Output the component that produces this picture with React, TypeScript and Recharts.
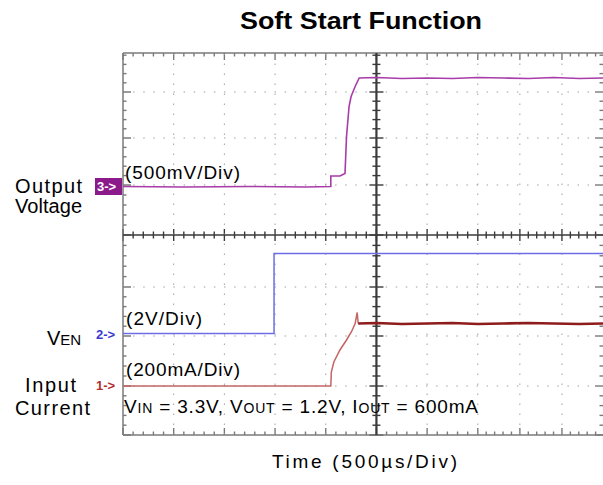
import { ComposedChart, Line, XAxis, YAxis, ReferenceLine, ReferenceArea } from "recharts";

// time in divisions (500us/div), level in divisions
const ch3Time = [0, 1.2, 2.5, 3.6, 4.1, 4.1, 4.28, 4.38, 4.41, 4.46, 4.5, 4.58, 4.66, 5.0, 5.5, 6.0, 6.5, 7.0, 7.5, 8.0, 8.5, 9.0, 9.47];
const ch3Level = [0.97, 0.96, 0.97, 0.96, 0.97, 1.18, 1.18, 1.23, 1.97, 2.57, 2.77, 2.97, 3.14, 3.15, 3.13, 3.14, 3.13, 3.15, 3.14, 3.13, 3.15, 3.13, 3.14];

const ch2Time = [0, 2.98, 2.98, 9.47];
const ch2Level = [-1.97, -1.97, -0.37, -0.37];

const ch1RiseTime = [0, 4.1, 4.11, 4.16, 4.28, 4.41, 4.51, 4.58, 4.62, 4.64];
const ch1RiseLevel = [-3.02, -3.02, -2.74, -2.54, -2.3, -2.1, -1.93, -1.77, -1.55, -1.77];

const ch1FlatTime = [4.64, 5.0, 5.5, 6.0, 6.5, 7.0, 7.5, 8.0, 8.5, 9.0, 9.47];
const ch1FlatLevel = [-1.77, -1.76, -1.78, -1.77, -1.76, -1.78, -1.77, -1.76, -1.77, -1.78, -1.77];

// graticule
const majorX = [0, 1, 2, 3, 4, 5, 6, 7, 7.83, 8.66, 9.49];
const majorY = [-4, -3.02, -2.02, -1.04, 0, 1, 1.94, 2.86, 3.78];

const X_MAX = 9.47;
const Y_MIN = -4;
const Y_MAX = 3.64;
const PX_X = 50.69;
const PX_Y = 50;

const zip = (t: number[], v: number[]) => t.map((x, i) => ({ t: x, v: v[i] }));

function subdivide(majors: number[]) {
  const out: { v: number; major: boolean }[] = [];
  majors.forEach((m, i) => {
    out.push({ v: m, major: true });
    if (i < majors.length - 1) {
      const step = (majors[i + 1] - m) / 5;
      for (let k = 1; k < 5; k++) out.push({ v: m + step * k, major: false });
    }
  });
  return out;
}

const ticksX = subdivide(majorX).filter((d) => d.v <= X_MAX);
const ticksY = subdivide(majorY).filter((d) => d.v <= Y_MAX && d.v >= Y_MIN);

const FONT = "'Liberation Sans', Arial, Helvetica, sans-serif";
const AXIS = "#3a3a3a";
const EDGE = "#7a7a7a";
const DOT = "#a0a0a0";

// thin tick drawn as a reference area
function vTick(key: string, x: number, y1: number, y2: number, color: string) {
  const w = 0.7 / PX_X;
  return (
    <ReferenceArea key={key} x1={x - w} x2={x + w} y1={Math.min(y1, y2)} y2={Math.max(y1, y2)} fill={color} fillOpacity={1} stroke="none" ifOverflow="visible" />
  );
}
function hTick(key: string, y: number, x1: number, x2: number, color: string) {
  const h = 0.7 / PX_Y;
  return (
    <ReferenceArea key={key} y1={y - h} y2={y + h} x1={Math.min(x1, x2)} x2={Math.max(x1, x2)} fill={color} fillOpacity={1} stroke="none" ifOverflow="visible" />
  );
}

export default function App() {
  const tickMarks: JSX.Element[] = [];
  ticksX.forEach((d, i) => {
    const c = (d.major ? 6 : 3.5) / PX_Y;
    tickMarks.push(vTick(`cx${i}`, d.v, -c, c, AXIS));
    const e = (d.major ? 7 : 3.5) / PX_Y;
    tickMarks.push(vTick(`tx${i}`, d.v, Y_MAX, Y_MAX - e, EDGE));
    tickMarks.push(vTick(`bx${i}`, d.v, Y_MIN, Y_MIN + e, EDGE));
  });
  ticksY.forEach((d, i) => {
    const c = (d.major ? 7 : 4) / PX_X;
    tickMarks.push(hTick(`cy${i}`, d.v, 5 - c, 5 + c, AXIS));
    const e = (d.major ? 8 : 3.5) / PX_X;
    tickMarks.push(hTick(`ly${i}`, d.v, 0, e, EDGE));
    tickMarks.push(hTick(`ry${i}`, d.v, X_MAX - e, X_MAX, EDGE));
  });

  return (
    <div style={{ position: "absolute", left: 0, top: 0, width: 603, height: 485, background: "#fff" }}>
      <ComposedChart width={603} height={485} margin={{ top: 53, right: 0, bottom: 50, left: 123 }}>
        <XAxis type="number" dataKey="t" domain={[0, X_MAX]} hide allowDataOverflow />
        <YAxis type="number" dataKey="v" domain={[Y_MIN, Y_MAX]} hide allowDataOverflow />

        {majorX.filter((v) => v !== 0 && v !== 5 && v < X_MAX).map((v) => (
          <ReferenceLine key={`gx${v}`} x={v} stroke={DOT} strokeWidth={1} strokeDasharray="1.5 8.5" />
        ))}
        {majorY.filter((v) => v !== Y_MIN && v !== 0 && v < Y_MAX).map((v) => (
          <ReferenceLine key={`gy${v}`} y={v} stroke={DOT} strokeWidth={1} strokeDasharray="1.5 8.6" />
        ))}

        <ReferenceLine x={0} stroke={EDGE} strokeWidth={1.5} />
        <ReferenceLine y={Y_MAX} stroke={EDGE} strokeWidth={1.5} />
        <ReferenceLine y={Y_MIN} stroke={EDGE} strokeWidth={1.5} />
        <ReferenceLine y={0} stroke={AXIS} strokeWidth={1.5} />
        <ReferenceLine x={5} stroke={AXIS} strokeWidth={2.2} />
        {tickMarks}

        <Line data={zip(ch3Time, ch3Level)} dataKey="v" type="linear" stroke="#a83ca8" strokeWidth={1.6} dot={false} isAnimationActive={false} />
        <Line data={zip(ch2Time, ch2Level)} dataKey="v" type="linear" stroke="#6c6ce6" strokeWidth={1.5} dot={false} isAnimationActive={false} />
        <Line data={zip(ch1RiseTime, ch1RiseLevel)} dataKey="v" type="linear" stroke="#c46464" strokeWidth={1.5} dot={false} isAnimationActive={false} />
        <Line data={zip(ch1FlatTime, ch1FlatLevel)} dataKey="v" type="linear" stroke="#8e1c1c" strokeWidth={2.6} dot={false} isAnimationActive={false} />
      </ComposedChart>

      <svg width={603} height={485} style={{ position: "absolute", left: 0, top: 0, pointerEvents: "none" }} fontFamily={FONT}>
        <text x={240} y={29} fontSize={23} fontWeight="bold" textLength={242} lengthAdjust="spacingAndGlyphs" fill="#000">Soft Start Function</text>

        <text x={15} y={193} fontSize={20} textLength={67} fill="#000">Output</text>
        <text x={15} y={213} fontSize={20} textLength={67} fill="#000">Voltage</text>
        <text x={47} y={345} fontSize={20} fill="#000">V<tspan fontSize={15}>EN</tspan></text>
        <text x={25} y={392} fontSize={20} textLength={51} fill="#000">Input</text>
        <text x={15} y={415} fontSize={20} textLength={75} fill="#000">Current</text>

        <rect x={95} y={178} width={27} height={17} fill="#8b1a8b" />
        <text x={97} y={191} fontSize={13} fontWeight="bold" fill="#fff">3-&gt;</text>
        <text x={96} y={339} fontSize={13} fontWeight="bold" fill="#3a3ad0">2-&gt;</text>
        <text x={96} y={390} fontSize={13} fontWeight="bold" fill="#b03030">1-&gt;</text>

        <text x={125} y={179} fontSize={19} textLength={115} fill="#000">(500mV/Div)</text>
        <text x={126} y={325} fontSize={19} textLength={76} fill="#000">(2V/Div)</text>
        <text x={126} y={376} fontSize={19} textLength={114} fill="#000">(200mA/Div)</text>
        <text x={124} y={413} fontSize={19} textLength={354} fill="#000">
          V<tspan fontSize={14}>IN</tspan> = 3.3V, V<tspan fontSize={14}>OUT</tspan> = 1.2V, I<tspan fontSize={14}>OUT</tspan> = 600mA
        </text>

        <text x={272} y={468} fontSize={19} textLength={185} fill="#000">Time (500µs/Div)</text>
      </svg>
    </div>
  );
}
